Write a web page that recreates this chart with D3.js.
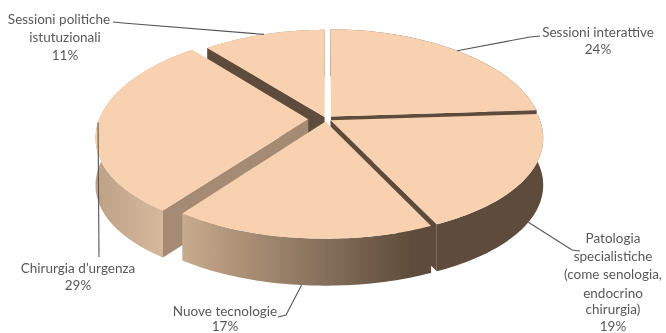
<!DOCTYPE html>
<html><head><meta charset="utf-8">
<script src="https://cdn.jsdelivr.net/npm/d3@7"></script>
<style>html,body{margin:0;padding:0;background:#fff}svg{display:block}</style>
</head><body><div id="c"></div>
<script>
const categories = ["Sessioni interattive","Patologia specialistiche (come senologia, endocrino chirurgia)","Nuove tecnologie","Chirurgia d’urgenza","Sessioni politiche – istutuzionali"];
const values = [24,19,17,29,11];
const valueLabels = ["24%","19%","17%","29%","11%"];
const labelLines = [
  ["Sessioni interattive","24%"],
  ["Patologia","specialistiche","(come senologia,","endocrino","chirurgia)","19%"],
  ["Nuove tecnologie","17%"],
  ["Chirurgia d’urgenza","29%"],
  ["Sessioni politiche","istutuzionali","11%"]
];

// layout (not data)
const W=666,H=333,cx=326,cy=119,R=209,S=100,KY=0.14,KX=0.17,depth=47;
const explode=[0.035,0.025,0.025,0.085,0.02];
const drawOrder=[4,0,3,1,2];
// visible cut faces of each slice: colour of the start-side and end-side wall (null = hidden)
const TOP="#f8d2b0",DARK="#5f4c3b",TAN="#a58b73";
const cutFaces=[[null,DARK],[null,DARK],[null,null],[TAN,null],[DARK,null]];
const labelPos=[
  {x:[598,598],y:[37,54]},
  {x:[613,613,613,613,613,613],y:[243,261,279,298,314,331]},
  {x:[225,225],y:[316,331]},
  {x:[78,78],y:[273,290]},
  {x:[59,65,65],y:[24,42,60]}
];
const leaderTail=[
  [[530,37],[540,36]],
  [[572,250],[580,251]],
  [[286,315],[278,317]],
  [[99,257]],
  [[123,23],[113,22]]
];
const leaderFront=[0,1,1,0,0];

const xS=d3.scaleLinear().domain([-1,1]).range([cx-R,cx+R]);
const yS=d3.scaleLinear().domain([-1,1]).range([cy-S,cy+S]);
function proj(u,v){return [xS(u/(1-KX*v)),yS(v/(1-KY*v))];}

const arcs=d3.pie().sort(null).value(d=>d)(values);
const svg=d3.select("#c").append("svg").attr("width",W).attr("height",H);
const defs=svg.append("defs");
defs.append("filter").attr("id","soft").attr("x","-5%").attr("y","-5%").attr("width","110%").attr("height","110%")
  .append("feGaussianBlur").attr("stdDeviation",0.55);
const grad=defs.append("linearGradient").attr("id","wall").attr("gradientUnits","userSpaceOnUse")
  .attr("x1",100).attr("x2",545).attr("y1",0).attr("y2",0);
[[0,"#bfa388"],[0.14,"#d6b89d"],[0.19,"#c8aa8e"],[0.3,"#b09479"],[0.53,"#7f6a57"],[0.7,"#5f4c3b"],[1,"#5f4c3b"]]
  .forEach(([o,c])=>grad.append("stop").attr("offset",o).attr("stop-color",c));

const line=d3.line();
const g=svg.append("g").attr("filter","url(#soft)");

function pt(a,mid,e,r){
  const ox=Math.sin(mid)*e, oy=-Math.cos(mid)*e;
  return proj(ox+r*Math.sin(a), oy-r*Math.cos(a));
}
const down=p=>[p[0],p[1]+depth];

drawOrder.forEach(i=>{
  const d=arcs[i],mid=(d.startAngle+d.endAngle)/2,e=explode[i];
  const angs=d3.range(0,61).map(t=>d.startAngle+(d.endAngle-d.startAngle)*t/60);
  const rim=angs.map(a=>pt(a,mid,e,1));
  const apex=pt(0,mid,e,0);
  const s=g.append("g");
  // outer wall
  s.append("path").attr("d",line(rim.concat(rim.map(down).reverse()))+"Z").attr("fill","url(#wall)");
  // radial walls
  [[rim[0],cutFaces[i][0]],[rim[60],cutFaces[i][1]]].forEach(([p,c])=>{
    if(c) s.append("path").attr("d",line([apex,p,down(p),down(apex)])+"Z").attr("fill",c);
  });
  // top
  s.append("path").attr("d",line([apex].concat(rim))+"Z").attr("fill",TOP);
});

// leader lines
arcs.forEach((d,i)=>{
  const mid=(d.startAngle+d.endAngle)/2;
  let p=pt(mid,mid,explode[i],1);
  if(leaderFront[i]) p=down(p);
  g.append("path").attr("d",line([p].concat(leaderTail[i]))).attr("fill","none").attr("stroke","#555").attr("stroke-width",1.1);
});
// labels
labelLines.forEach((lines,i)=>{
  lines.forEach((t,j)=>{
    g.append("text").attr("x",labelPos[i].x[j]).attr("y",labelPos[i].y[j])
      .attr("text-anchor","middle").attr("font-family","Lato, 'Open Sans', sans-serif")
      .attr("font-size",13.5).attr("fill","#595959").text(t);
  });
});
</script></body></html>
